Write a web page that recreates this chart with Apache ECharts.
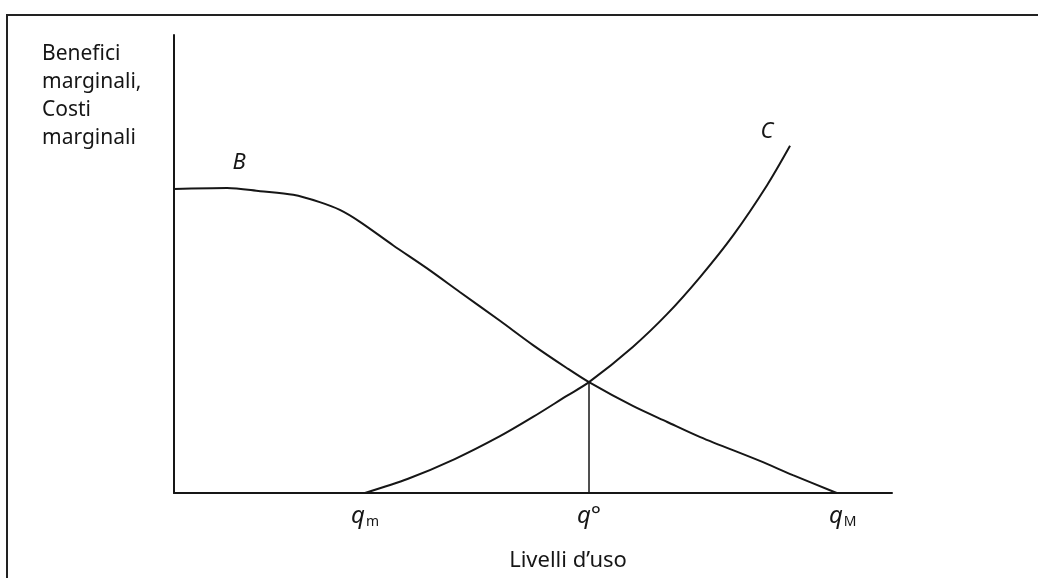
<!DOCTYPE html>
<html>
<head>
<meta charset="utf-8">
<title>Benefici e costi marginali</title>
<script src="https://cdn.jsdelivr.net/npm/echarts@6/dist/echarts.min.js"></script>
<style>
    html, body { margin: 0; padding: 0; background: #fff; }
    #chart { width: 1038px; height: 578px; }
</style>
</head>
<body>
<div id="chart"></div>
<script>
// curva B (benefici marginali)
const benefitX = [0, 7.4, 12.0, 16.6, 20.3, 23.1, 25.9, 30.5, 35.2, 39.8, 45.4, 50.0, 54.7, 57.8, 63.9, 68.7, 73.3, 81.6, 86.2, 92.3]
const benefitY = [66.4, 66.6, 65.9, 65.1, 63.5, 61.8, 59.2, 54.1, 49.1, 43.9, 37.6, 32.3, 27.3, 24.2, 19.0, 15.5, 12.2, 7.0, 3.9, 0]

// curva C (costi marginali)
const costX = [26.6, 32.6, 39.1, 45.4, 50.0, 54.7, 57.8, 63.9, 68.7, 73.3, 77.9, 82.6, 85.8]
const costY = [0, 3.1, 7.4, 12.4, 16.6, 21.2, 24.2, 31.9, 39.1, 47.2, 56.3, 67.2, 75.8]

// livello ottimo q°
const optimumX = [57.8, 57.8]
const optimumY = [0, 24.2]

// etichette sull'asse x
const tickValues = [26.6, 57.8, 92.3]
const tickLabels = ['{q|q}{sub|m}', '{q|q}{deg|°}', '{qM|q}{sub|M}']

const ink = '#161616'
const sans = '"Noto Sans", "DejaVu Sans", sans-serif'

const toPairs = (xs, ys) => xs.map((x, i) => [x, ys[i]])

const curveLabel = (text, offset) => ({
    show: true,
    position: 'inside',
    offset: offset,
    formatter: text,
    fontFamily: sans,
    fontStyle: 'italic',
    fontSize: 22,
    color: ink
})

const benefitData = toPairs(benefitX, benefitY).map((p, i) =>
    i === 1 ? { value: p, label: curveLabel('B', [12, -25]) } : p)
const costData = toPairs(costX, costY).map((p, i) =>
    i === costX.length - 1 ? { value: p, label: curveLabel('C', [-23, -14]) } : p)

const myChart = echarts.init(document.getElementById('chart'))

const option = {
    animation: false,
    title: {
        text: 'Benefici\nmarginali,\nCosti\nmarginali',
        left: 42,
        top: 40,
        padding: 0,
        textStyle: {
            fontFamily: sans,
            fontSize: 21,
            fontWeight: 'normal',
            lineHeight: 28,
            color: ink
        }
    },
    graphic: [{
        type: 'polyline',
        shape: { points: [[7, 578], [7, 15], [1038, 15]] },
        style: { stroke: '#222', lineWidth: 2, fill: null }
    }],
    grid: { left: 174, right: 146, top: 35, bottom: 85 },
    xAxis: {
        type: 'value',
        min: 0,
        max: 100,
        name: 'Livelli d’uso',
        nameLocation: 'middle',
        nameGap: 56,
        nameTextStyle: {
            fontFamily: sans,
            fontSize: 22,
            lineHeight: 24,
            color: ink,
            padding: [0, 0, 0, 70]
        },
        axisLine: { lineStyle: { color: ink, width: 2 } },
        axisTick: { show: false },
        splitLine: { show: false },
        axisLabel: {
            customValues: tickValues,
            margin: 8,
            formatter: (v) => tickLabels[tickValues.indexOf(v)],
            rich: {
                q: { fontFamily: sans, fontStyle: 'italic', fontSize: 24, lineHeight: 30, color: ink },
                qM: { fontFamily: sans, fontStyle: 'italic', fontSize: 24, lineHeight: 30, color: ink, padding: [0, 0, 0, 12] },
                sub: { fontFamily: sans, fontSize: 14, lineHeight: 30, color: ink, padding: [12, 0, 0, 1] },
                deg: { fontFamily: sans, fontSize: 24, lineHeight: 30, color: ink }
            }
        }
    },
    yAxis: {
        type: 'value',
        min: 0,
        max: 100,
        axisLine: { show: true, lineStyle: { color: ink, width: 2 } },
        axisTick: { show: false },
        axisLabel: { show: false },
        splitLine: { show: false }
    },
    series: [
        {
            name: 'B',
            type: 'line',
            data: benefitData,
            smooth: 0.3,
            showSymbol: true,
            symbolSize: 0,
            lineStyle: { color: ink, width: 2 },
            itemStyle: { color: ink }
        },
        {
            name: 'C',
            type: 'line',
            data: costData,
            smooth: 0.3,
            showSymbol: true,
            symbolSize: 0,
            lineStyle: { color: ink, width: 2 },
            itemStyle: { color: ink }
        },
        {
            name: 'q°',
            type: 'line',
            data: toPairs(optimumX, optimumY),
            showSymbol: false,
            lineStyle: { color: ink, width: 1.5 }
        }
    ]
}

myChart.setOption(option)
window.addEventListener('resize', () => myChart.resize())
</script>
</body>
</html>
